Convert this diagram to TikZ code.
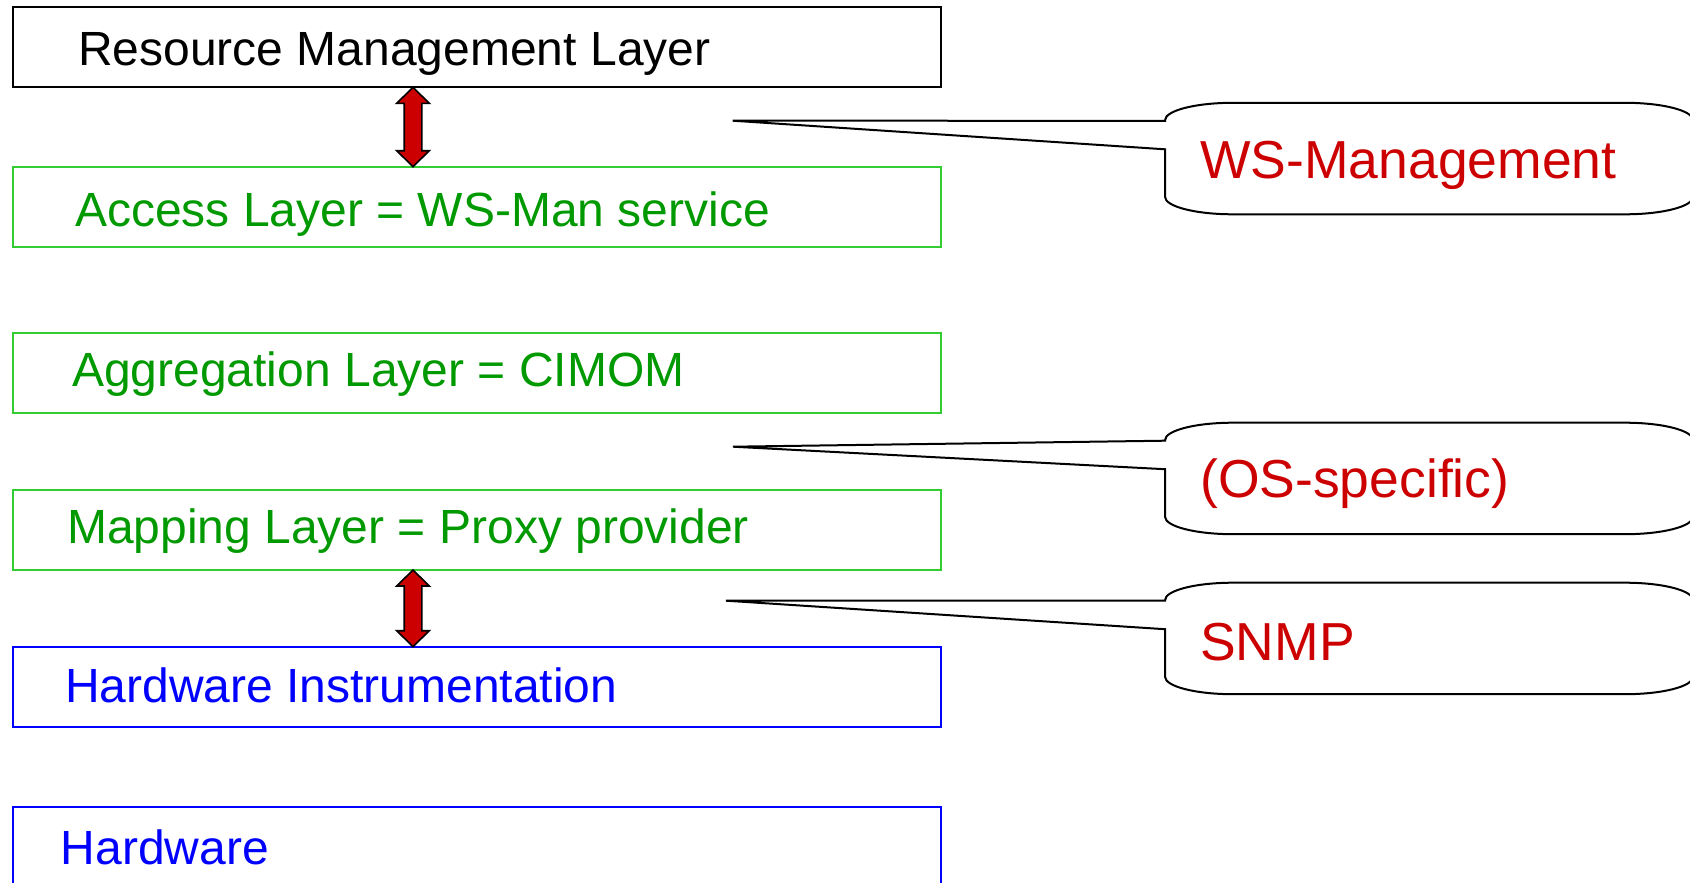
\documentclass[tikz,border=0pt]{standalone}
\usepackage{fontspec}
\setmainfont{Liberation Sans}
\usetikzlibrary{calc}
\definecolor{boxgreen}{HTML}{33CC33}
\definecolor{txtgreen}{HTML}{009900}
\definecolor{blueC}{HTML}{0000FF}
\definecolor{redC}{HTML}{CC0000}
\newcommand\dblarrow[2]{%
  \path[blockarrow] (#1) -- ($(#1)+(16.3,16)$) -- ($(#1)+(8.8,16)$) -- ($(#2)+(8.8,-16)$) -- ($(#2)+(16.3,-16)$) -- (#2) -- ($(#2)+(-16.3,-16)$) -- ($(#2)+(-8.8,-16)$) -- ($(#1)+(-8.8,16)$) -- ($(#1)+(-16.3,16)$) -- cycle;}
\newcommand\bubble[2]{%
  \draw[callout] (1165,#1+46.5) -- (1165,#1+94) .. controls (1165,#1+103.7) and (1195.4,#1+111.5) .. (1233,#1+111.5) -- (1625,#1+111.5) .. controls (1662.6,#1+111.5) and (1693,#1+103.7) .. (1693,#1+94) -- (1693,#1+17.5) .. controls (1693,#1+7.8) and (1662.6,#1) .. (1625,#1) -- (1233,#1) .. controls (1195.4,#1) and (1165,#1+7.8) .. (1165,#1+17.5) -- (1165,#1+18) -- (#2) -- cycle;}
\begin{document}
\begin{tikzpicture}[x=1pt,y=-1pt,
  layerbox/.style={draw, line width=2.4pt, minimum width=928pt, minimum height=80pt, anchor=north west, inner sep=0pt, outer sep=0pt},
  layertext/.style={anchor=base west, inner sep=0pt, font=\fontsize{48}{58}\selectfont},
  calltext/.style={anchor=base west, inner sep=0pt, text=redC, font=\fontsize{53.5}{64}\selectfont},
  callout/.style={draw=black, line width=2pt, fill=white, line join=miter},
  blockarrow/.style={draw=black, line width=1.6pt, fill=redC, line join=miter}]
\useasboundingbox (0,0) rectangle (1690,883);
\clip (0,0) rectangle (1690,883);
% layer boxes
\node[layerbox, draw=black] (rml) at (13,7.3) {};
\node[layerbox, draw=boxgreen] (acc) at (13,166.7) {};
\node[layerbox, draw=boxgreen] (agg) at (13,333) {};
\node[layerbox, draw=boxgreen] (map) at (13,490) {};
\node[layerbox, draw=blueC] (hwi) at (13,646.7) {};
\node[layerbox, draw=blueC] (hw) at (13,806.7) {};
% layer texts
\node[layertext, text=black] (trml) at ($(rml.north west)+(65,58)$) {Resource Management Layer};
\node[layertext, text=txtgreen] (tacc) at ($(acc.north west)+(62,60)$) {Access Layer = WS-Man service};
\node[layertext, text=txtgreen] (tagg) at ($(agg.north west)+(59,53.5)$) {Aggregation Layer = CIMOM};
\node[layertext, text=txtgreen] (tmap) at ($(map.north west)+(54,53.5)$) {Mapping Layer = Proxy provider};
\node[layertext, text=blueC] (thwi) at ($(hwi.north west)+(52,56)$) {Hardware Instrumentation};
\node[layertext, text=blueC] (thw) at ($(hw.north west)+(47.5,58)$) {Hardware};
% block arrows
\coordinate (a1) at ($(rml.south west)+(400,0)$);
\coordinate (a2) at ($(acc.north west)+(400,0)$);
\coordinate (a3) at ($(map.south west)+(400,0)$);
\coordinate (a4) at ($(hwi.north west)+(400,0)$);
\dblarrow{a1}{a2}
\dblarrow{a3}{a4}
% callouts
\coordinate (tip1) at (732.7,120.7);
\coordinate (tip2) at (732.9,446.7);
\coordinate (tip3) at (726,600.7);
\bubble{102.8}{tip1}
\bubble{422.7}{tip2}
\bubble{582.7}{tip3}
\node[calltext] (cws) at (1200,178.3) {WS-Management};
\node[calltext] (cos) at (1200,497) {(OS-specific)};
\node[calltext] (csn) at (1200,660) {SNMP};
\end{tikzpicture}
\end{document}
